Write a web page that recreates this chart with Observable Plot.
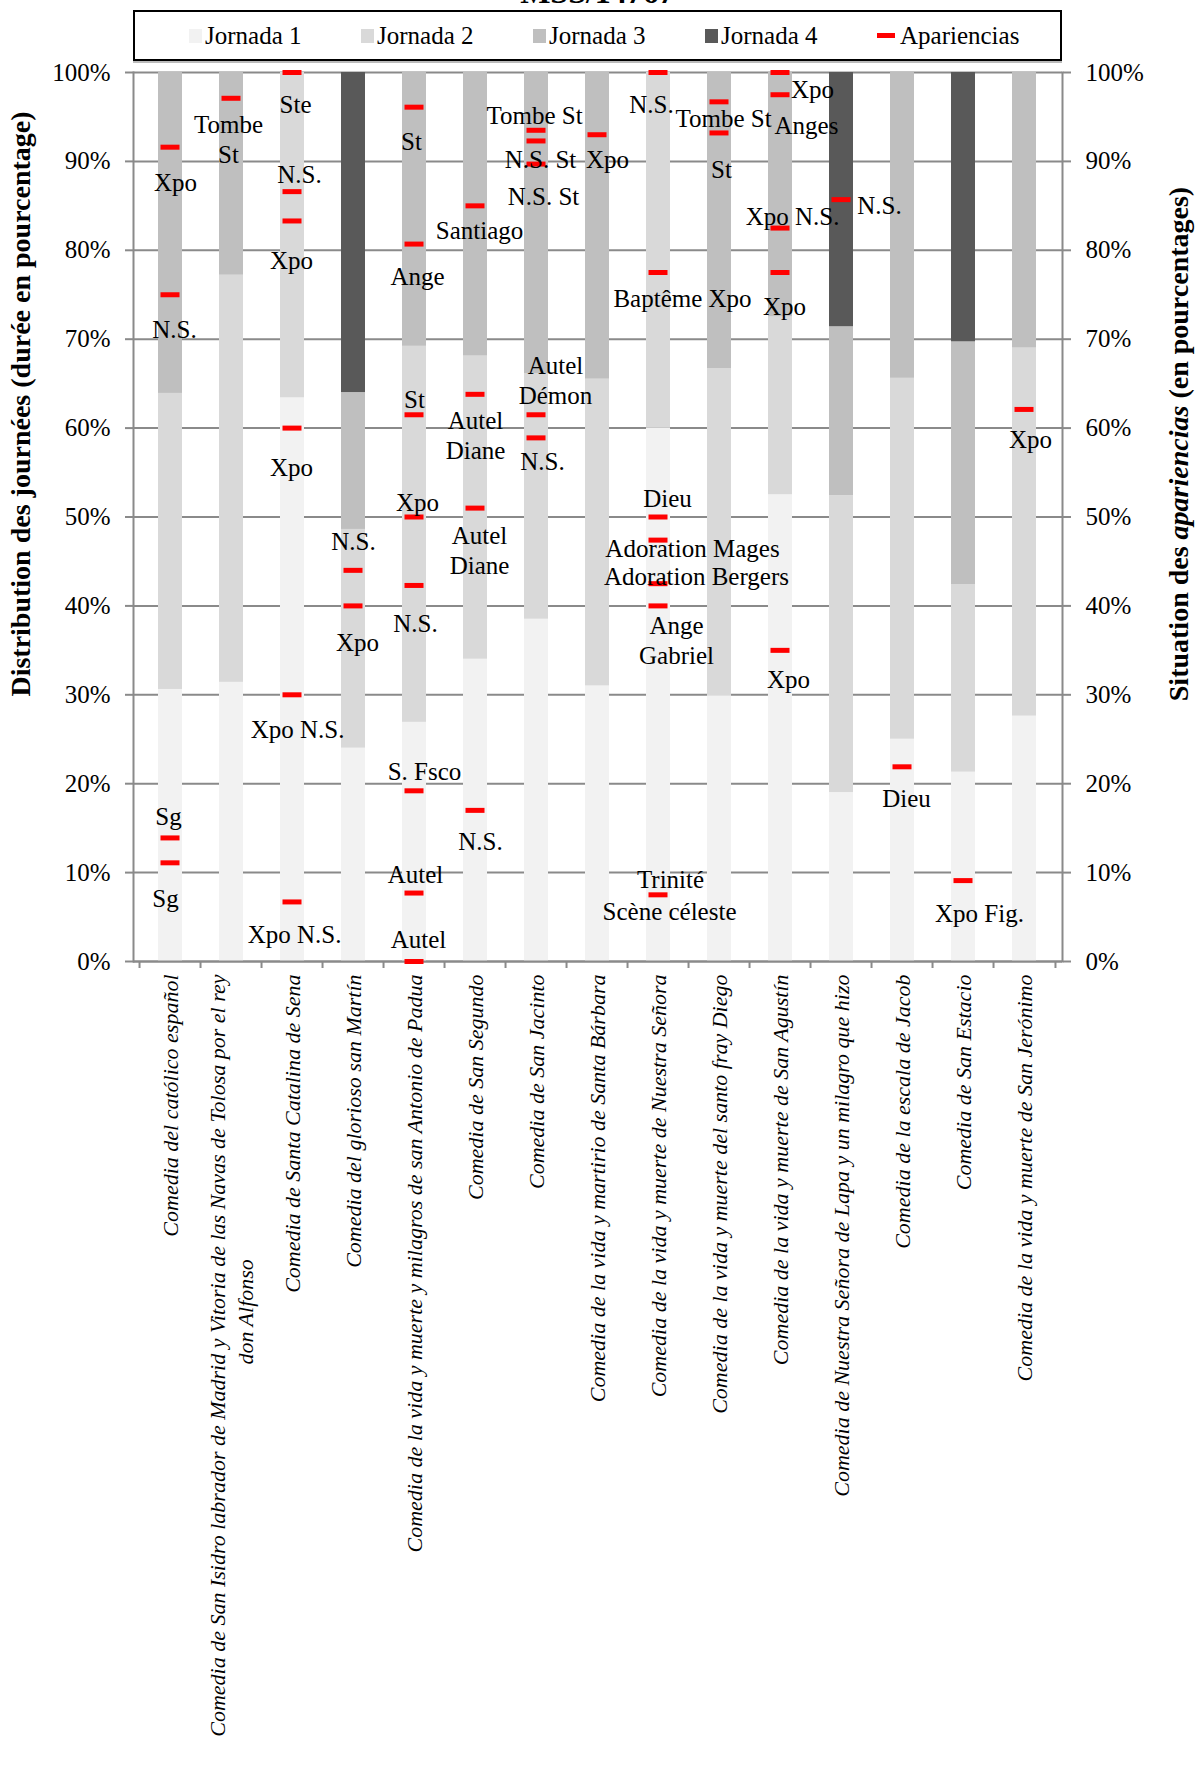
<!DOCTYPE html>
<html>
<head>
<meta charset="utf-8">
<script src="https://cdn.jsdelivr.net/npm/d3@7"></script>
<script src="https://cdn.jsdelivr.net/npm/@observablehq/plot@0.6"></script>
<style>
  body { margin: 0; background: #fff; font-family: "Liberation Serif", serif; }
  #wrap { position: relative; width: 1195px; height: 1767px; overflow: hidden; background: #fff; }
  #title { position: absolute; left: 0; width: 1195px; top: -24px; text-align: center; font-weight: bold; font-size: 32px; line-height: 1; }
  #legend { position: absolute; left: 133px; top: 10px; width: 929px; height: 51px; border: 2px solid #000;
            box-shadow: 0 2px 0 #bbb; box-sizing: border-box; display: flex; align-items: center; padding-left: 54px; }
  .item { width: 172px; display: flex; align-items: center; font-size: 25px; white-space: nowrap; }
  .sw { width: 13px; height: 14px; margin-right: 3px; }
  .sw.line { width: 18px; height: 5px; margin-right: 5px; }
  .ytitle { position: absolute; transform: translate(-50%, -50%) rotate(-90deg); white-space: nowrap; font-weight: bold; font-size: 28px; }
  #chart { position: absolute; left: 0; top: 0; }
</style>
</head>
<body>
<div id="wrap">
  <div id="chart"></div>
  <div id="title">MSS/14767</div>
  <div id="legend"></div>
  <div class="ytitle" style="left:21px; top:404px;">Distribution des journées (durée en pourcentage)</div>
  <div class="ytitle" style="left:1179px; top:444px;">Situation des <i>apariencias</i> (en pourcentages)</div>
</div>
<script>
// ---------- data ----------
const categories = [
  "Comedia del católico español",
  "Comedia de San Isidro labrador de Madrid y Vitoria de las Navas de Tolosa por el rey\ndon Alfonso",
  "Comedia de Santa Catalina de Sena",
  "Comedia del glorioso san Martín",
  "Comedia de la vida y muerte y milagros de san Antonio de Padua",
  "Comedia de San Segundo",
  "Comedia de San Jacinto",
  "Comedia de la vida y martirio de Santa Bárbara",
  "Comedia de la vida y muerte de Nuestra Señora",
  "Comedia de la vida y muerte del santo fray Diego",
  "Comedia de la vida y muerte de San Agustín",
  "Comedia de Nuestra Señora de Lapa y un milagro que hizo",
  "Comedia de la escala de Jacob",
  "Comedia de San Estacio",
  "Comedia de la vida y muerte de San Jerónimo"
];
const seriesNames = ["Jornada 1", "Jornada 2", "Jornada 3", "Jornada 4"];
const seriesColors = ["#f2f2f2", "#d9d9d9", "#bfbfbf", "#595959"];
const jornada1 = [30.6, 31.4, 63.4, 24.0, 26.9, 34.0, 38.5, 31.0, 60.0, 29.9, 52.5, 19.0, 25.0, 21.3, 27.6];
const jornada2 = [33.3, 45.8, 36.6, 24.6, 42.3, 34.1, 27.6, 34.5, 40.0, 36.8, 20.0, 33.4, 40.6, 21.1, 41.4];
const jornada3 = [36.1, 22.8, 0.0, 15.4, 30.8, 31.9, 33.9, 34.5, 0.0, 33.3, 27.5, 19.0, 34.4, 27.3, 31.0];
const jornada4 = [0, 0, 0, 36.0, 0, 0, 0, 0, 0, 0, 0, 28.6, 0, 30.3, 0];
const yTicks = [0, 10, 20, 30, 40, 50, 60, 70, 80, 90, 100];

// positions of the apariencias (percent of the play), one list per comedia
const apariencias = [
  [91.6, 75.0, 13.9, 11.1],
  [97.1],
  [100, 86.6, 83.3, 60.0, 30.0, 6.7],
  [44.0, 40.0],
  [96.1, 80.7, 61.5, 50.0, 42.3, 19.2, 7.7, 0],
  [85.0, 63.8, 51.0, 17.0],
  [93.5, 92.3, 89.7, 61.5, 58.9],
  [93.0],
  [100, 77.5, 50.0, 47.4, 42.5, 40.0, 7.5],
  [96.7, 93.2],
  [100, 97.5, 82.5, 77.5, 35.0],
  [85.7],
  [21.9],
  [9.1],
  [62.1]
];
// annotation texts: [comedia index, text, position (%), horizontal nudge]
const aparLabels = [
  [0, "Xpo", 87.7, 5], [0, "N.S.", 71.2, 4], [0, "Sg", 16.4, -2], [0, "Sg", 7.2, -5],
  [1, "Tombe\nSt", 92.6, -3],
  [2, "Ste", 96.5, 3], [2, "N.S.", 88.7, 7], [2, "Xpo", 79.0, -1], [2, "Xpo", 55.7, -1], [2, "Xpo N.S.", 26.2, 5], [2, "Xpo N.S.", 3.2, 2],
  [3, "N.S.", 47.4, 0], [3, "Xpo", 36.0, 4],
  [4, "St", 92.4, -3], [4, "Ange", 77.2, 3], [4, "St", 63.3, 0], [4, "Xpo", 51.8, 3], [4, "N.S.", 38.2, 1], [4, "S. Fsco", 21.5, 10], [4, "Autel", 9.9, 1], [4, "Autel", 2.6, 4],
  [5, "Santiago", 82.3, 4], [5, "Autel\nDiane", 59.3, 0], [5, "Autel\nDiane", 46.4, 4], [5, "N.S.", 13.6, 5],
  [6, "Tombe St", 95.3, -2], [6, "N.S. St", 90.3, 4], [6, "N.S. St", 86.2, 7], [6, "Autel\nDémon", 65.5, 19], [6, "N.S.", 56.4, 6],
  [7, "Xpo", 90.3, 10],
  [8, "N.S.", 96.5, -7], [8, "Baptême Xpo", 74.7, 24], [8, "Dieu", 52.2, 9], [8, "Adoration Mages", 46.6, 34], [8, "Adoration Bergers", 43.4, 38], [8, "Ange\nGabriel", 36.2, 18], [8, "Trinité", 9.3, 12], [8, "Scène céleste", 5.7, 11],
  [9, "Tombe St", 95.0, 4], [9, "St", 89.2, 2],
  [10, "Xpo", 98.2, 32], [10, "Anges", 94.2, 26], [10, "Xpo N.S.", 83.9, 12], [10, "Xpo", 73.8, 4], [10, "Xpo", 31.8, 8],
  [11, "N.S.", 85.2, 38],
  [12, "Dieu", 18.5, 4],
  [13, "Xpo Fig.", 5.5, 16],
  [14, "Xpo", 58.8, 6]
];

// ---------- tables ----------
const seriesValues = [jornada1, jornada2, jornada3, jornada4];
const rows = [];
seriesNames.forEach((s, si) => categories.forEach((c, ci) => rows.push({cat: c, serie: s, value: seriesValues[si][ci]})));
const aparRows = [];
apariencias.forEach((list, ci) => list.forEach(p => aparRows.push({cat: categories[ci], pos: p})));
const labelRows = aparLabels.map(([ci, t, p, dx]) => ({cat: categories[ci], text: t, pos: p, dx}));
const singleCats = categories.filter(c => !c.includes("\n"));
const multiCats = categories.filter(c => c.includes("\n"));

// ---------- legend ----------
const legend = document.getElementById("legend");
seriesNames.forEach((s, i) => {
  const it = document.createElement("div"); it.className = "item";
  it.innerHTML = `<span class="sw" style="background:${seriesColors[i]}"></span>${s}`;
  legend.appendChild(it);
});
{
  const it = document.createElement("div"); it.className = "item";
  it.innerHTML = `<span class="sw line" style="background:#ff0000"></span>Apariencias`;
  legend.appendChild(it);
}

// ---------- chart ----------
const W = 1195, H = 1767, mL = 133, mR = 133, mT = 72, mB = 806;
const step = (W - mL - mR) / categories.length;
const gray = "#8a8a8a";
const catText = {rotate: -90, fontStyle: "italic", fontSize: 22, fill: "#000"};

const labelMarks = labelRows.map(d =>
  Plot.text([d], {x: "cat", y: "pos", text: "text", dx: d.dx, fontSize: 25, lineHeight: 1.2, fill: "#000"})
);

const chart = Plot.plot({
  width: W, height: H,
  marginLeft: mL, marginRight: mR, marginTop: mT, marginBottom: mB,
  style: {fontFamily: "'Liberation Serif', serif", fontSize: "24px", color: "#000", background: "#fff"},
  x: {domain: categories, paddingInner: 0.6, paddingOuter: 0.3, axis: null},
  y: {domain: [0, 100], axis: null},
  color: {domain: seriesNames, range: seriesColors},
  marks: [
    Plot.ruleY(yTicks, {stroke: gray, strokeWidth: 2}),
    Plot.barY(rows, {x: "cat", y: "value", fill: "serie"}),
    Plot.frame({anchor: "left", stroke: gray, strokeWidth: 2}),
    Plot.frame({anchor: "right", stroke: gray, strokeWidth: 2}),
    Plot.ruleY([0], {stroke: gray, strokeWidth: 2}),
    Plot.axisY({anchor: "left", ticks: yTicks, tickFormat: d => d + "%", tickSize: 8, tickPadding: 15, stroke: gray, strokeWidth: 2, fill: "#000", label: null, fontSize: 25}),
    Plot.axisY({anchor: "right", ticks: yTicks, tickFormat: d => d + "%", tickSize: 8, tickPadding: 15, stroke: gray, strokeWidth: 2, fill: "#000", label: null, fontSize: 25}),
    Plot.axisX({anchor: "bottom", ticks: categories, tickSize: 7, tickFormat: () => "", dx: -step / 2, stroke: gray, strokeWidth: 2, label: null}),
    Plot.axisX({anchor: "bottom", ticks: [categories[categories.length - 1]], tickSize: 7, tickFormat: () => "", dx: step / 2, stroke: gray, strokeWidth: 2, label: null}),
    Plot.text(singleCats, {x: d => d, y: 0, text: d => d, textAnchor: "end", dy: 13, ...catText}),
    Plot.text(multiCats, {x: d => d, y: 0, text: d => d.split("\n")[0], textAnchor: "end", dy: 13, dx: -14, ...catText}),
    Plot.text(multiCats, {x: d => d, y: 0, text: d => d.split("\n")[1], textAnchor: "start", dy: 403, dx: 14, ...catText}),
    Plot.tickY(aparRows, {x: "cat", y: "pos", stroke: "#ff0000", strokeWidth: 5, insetLeft: 2.5, insetRight: 2.5}),
    ...labelMarks
  ]
});
document.getElementById("chart").appendChild(chart);
</script>
</body>
</html>
